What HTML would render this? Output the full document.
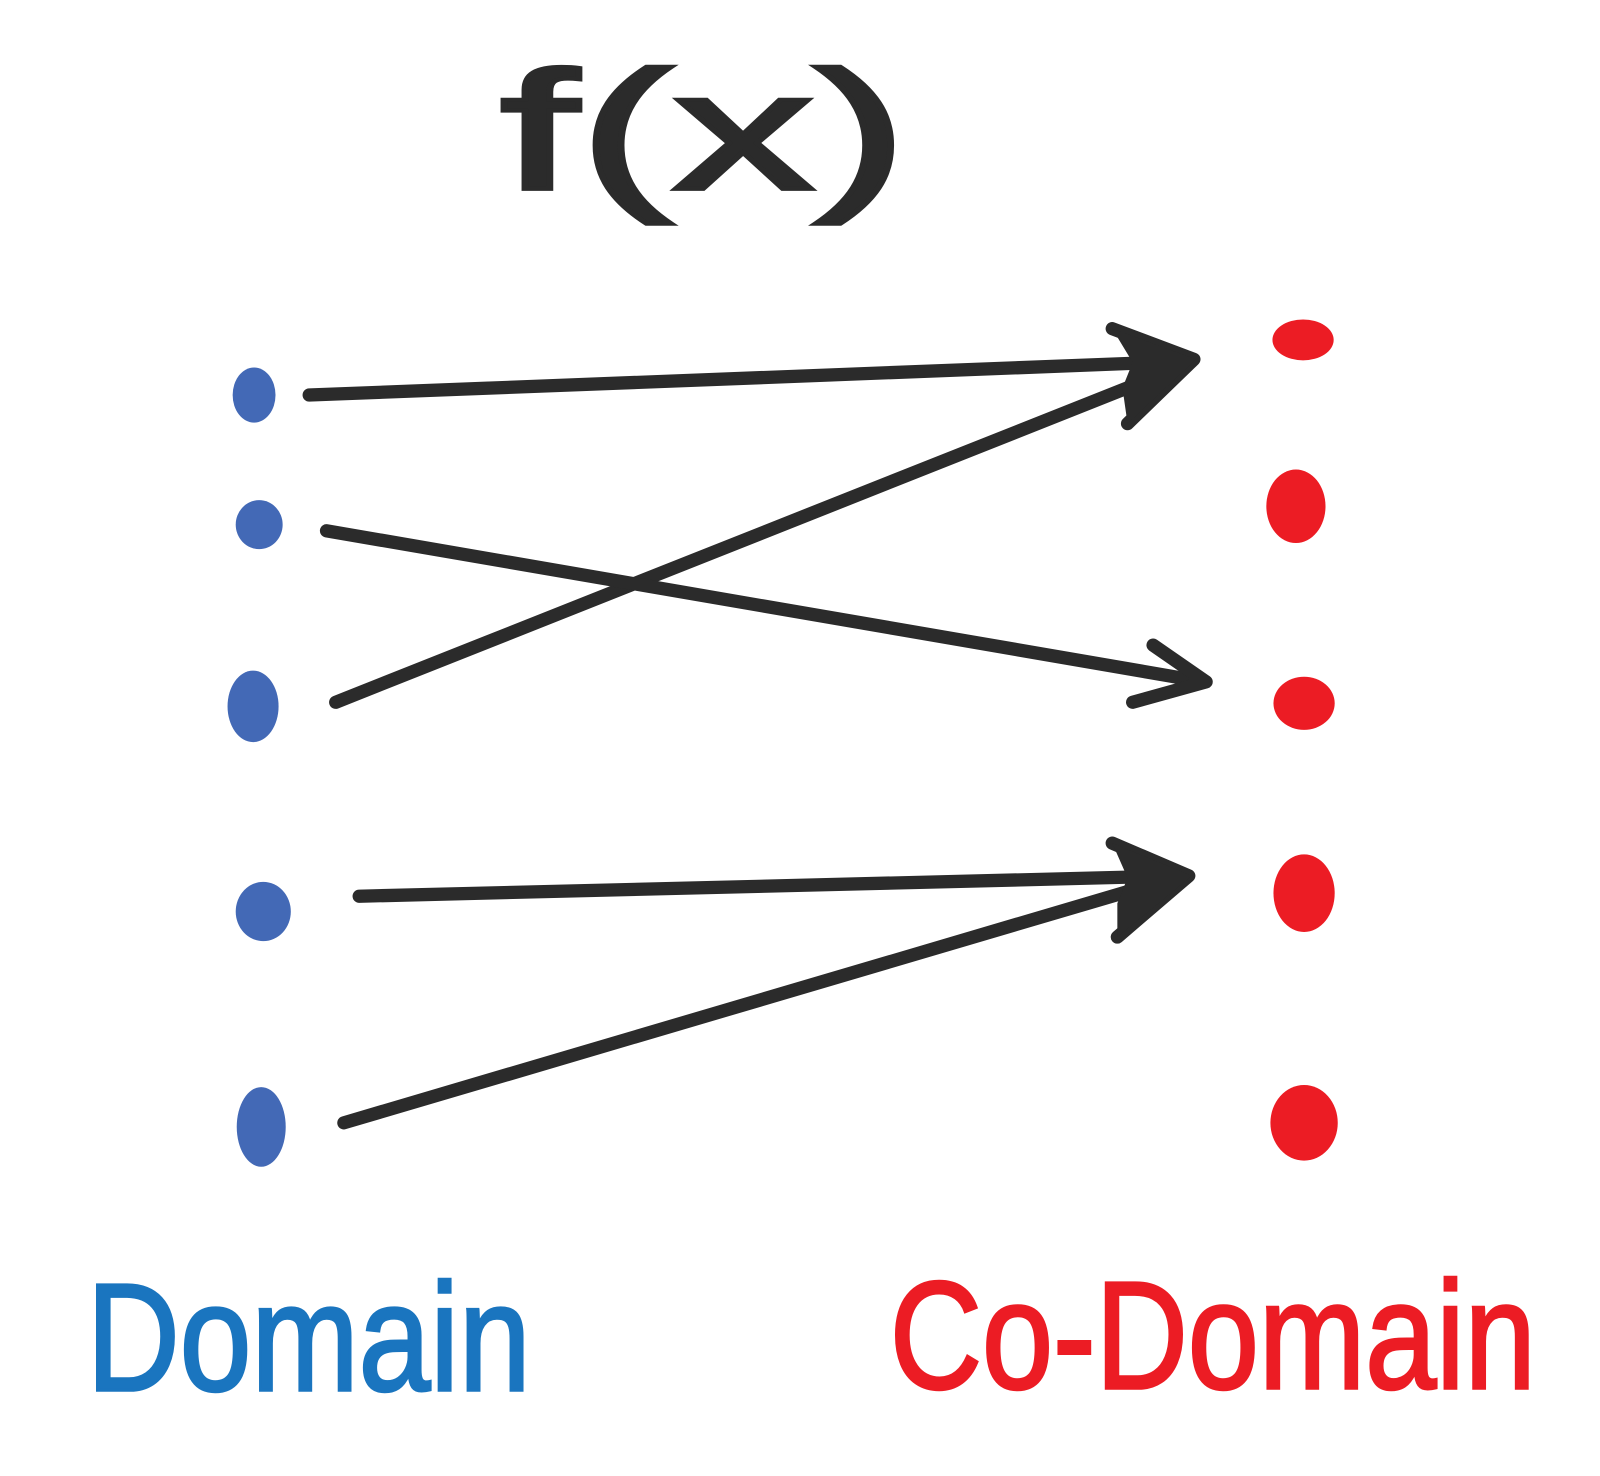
<!DOCTYPE html>
<html><head><meta charset="utf-8"><style>html,body{margin:0;padding:0;background:#fff;}svg{display:block}</style></head>
<body>
<svg width="1600" height="1476" viewBox="0 0 1568 1446" preserveAspectRatio="none" xmlns="http://www.w3.org/2000/svg">
<rect width="1568" height="1446" fill="#fff"/>
<text x="490" y="185" font-family="Liberation Sans, sans-serif" font-size="165" fill="#2b2b2b" stroke="#2b2b2b" stroke-width="4" textLength="400" lengthAdjust="spacingAndGlyphs">f(x)</text>
<g fill="#4369b6">
<ellipse cx="249" cy="387" rx="21" ry="27"/>
<ellipse cx="254" cy="514" rx="23" ry="24"/>
<ellipse cx="248" cy="692" rx="25" ry="35"/>
<ellipse cx="258" cy="893" rx="27" ry="29"/>
<ellipse cx="256" cy="1104" rx="24" ry="39"/>
</g>
<g fill="#ec1c24">
<ellipse cx="1277" cy="333" rx="30" ry="20"/>
<ellipse cx="1270" cy="496" rx="29" ry="36"/>
<ellipse cx="1278" cy="689" rx="30" ry="26"/>
<ellipse cx="1278" cy="875" rx="30" ry="38"/>
<ellipse cx="1278" cy="1100" rx="33" ry="37"/>
</g>
<g stroke="#2b2b2b" stroke-width="13" stroke-linecap="round" stroke-linejoin="round" fill="none">
<line x1="303" y1="387" x2="1160" y2="354"/>
<line x1="329" y1="688" x2="1130" y2="370"/>
<line x1="320" y1="520" x2="1180" y2="668"/>
<line x1="352" y1="878" x2="1160" y2="858"/>
<line x1="337" y1="1100" x2="1110" y2="872"/>
<polyline points="1090,322 1170,352 1105,415"/>
<polyline points="1130,632 1182,668 1110,688"/>
<polyline points="1090,826 1165,858 1095,918"/>
</g>
<g fill="#2b2b2b">
<polygon points="1090,322 1172,352 1105,415 1100,380 1110,355"/>
<polygon points="1090,826 1168,858 1095,918 1095,885 1105,860"/>
</g>
<text x="85" y="1362" font-family="Liberation Sans, sans-serif" font-size="150" fill="#1a75bf" stroke="#1a75bf" stroke-width="3" textLength="435" lengthAdjust="spacingAndGlyphs">Domain</text>
<text x="872" y="1360" font-family="Liberation Sans, sans-serif" font-size="150" fill="#ec1c24" stroke="#ec1c24" stroke-width="3" textLength="633" lengthAdjust="spacingAndGlyphs">Co-Domain</text>
</svg>
</body></html>
